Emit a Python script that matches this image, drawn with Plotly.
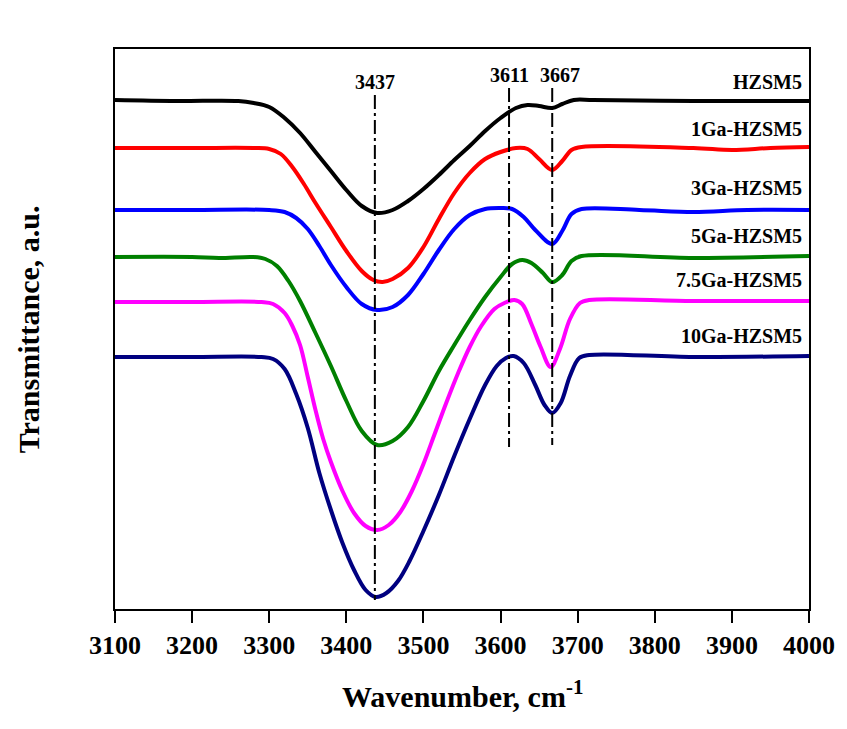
import plotly.graph_objects as go

# ---- data (wavenumber cm-1, transmittance in arbitrary offset units) ----
wn_hzsm5 = [3100, 3180, 3260, 3280, 3300, 3320, 3340, 3360, 3380, 3400, 3420, 3440, 3460, 3480,
            3500, 3520, 3540, 3560, 3580, 3600, 3620, 3635, 3650, 3667, 3680, 3695, 3720, 3850, 4000]
t_hzsm5 = [509, 508, 508, 506, 502, 491, 476, 457, 438, 419, 403, 396, 399, 408,
           420, 434, 449, 463, 478, 491, 501, 504, 503, 501, 505, 509, 509, 508, 508]

wn_1ga = [3100, 3200, 3280, 3300, 3315, 3330, 3345, 3360, 3380, 3400, 3420, 3435, 3447, 3460, 3480,
          3500, 3520, 3540, 3560, 3580, 3600, 3620, 3635, 3650, 3667, 3680, 3692, 3705, 3850, 3900, 3950, 4000]
t_1ga = [461, 461, 461, 460, 455, 442, 425, 406, 382, 358, 338, 329, 327, 330, 341,
         362, 390, 416, 436, 450, 457, 461, 460, 450, 439, 448, 459, 462, 461, 459, 461, 462]

wn_3ga = [3100, 3200, 3300, 3320, 3335, 3350, 3365, 3380, 3400, 3420, 3440, 3460, 3480, 3500,
          3520, 3540, 3560, 3580, 3600, 3615, 3630, 3645, 3667, 3680, 3692, 3705, 3780, 3850, 3920, 4000]
t_3ga = [399, 399, 399, 397, 391, 380, 363, 344, 322, 305, 299, 302, 314, 335,
         359, 380, 394, 400, 401, 400, 392, 379, 365, 378, 395, 400, 399, 397, 399, 399]

wn_5ga = [3100, 3200, 3235, 3280, 3295, 3310, 3325, 3340, 3360, 3380, 3400, 3420, 3440, 3460,
          3480, 3500, 3520, 3540, 3560, 3580, 3600, 3615, 3628, 3640, 3655, 3667, 3680, 3692, 3705, 3850, 4000]
t_5ga = [352, 352, 351, 352, 350, 343, 328, 308, 276, 243, 208, 178, 164, 168,
         182, 208, 238, 264, 289, 312, 332, 345, 349, 346, 336, 327, 334, 348, 353, 351, 353]

wn_75ga = [3100, 3200, 3290, 3305, 3320, 3330, 3340, 3350, 3360, 3370, 3380, 3395, 3410, 3425, 3440,
           3455, 3470, 3485, 3500, 3515, 3530, 3545, 3560, 3575, 3592, 3605, 3618, 3628, 3640, 3652,
           3665, 3677, 3690, 3703, 3715, 3850, 4000]
t_75ga = [307, 307, 307, 305, 296, 283, 264, 232, 199, 170, 147, 118, 96, 83, 79,
          84, 97, 118, 145, 176, 207, 236, 262, 283, 300, 306, 309, 305, 285, 262,
          242, 260, 290, 306, 309, 308, 308]

wn_10ga = [3100, 3200, 3290, 3305, 3320, 3335, 3350, 3365, 3380, 3395, 3410, 3425, 3438, 3452, 3467,
           3482, 3500, 3520, 3540, 3560, 3580, 3595, 3607, 3617, 3630, 3645, 3657, 3667, 3678, 3690,
           3702, 3715, 3850, 4000]
t_10ga = [252, 252, 252, 250, 240, 215, 181, 136, 99, 66, 39, 19, 12, 16, 28,
          48, 78, 114, 153, 190, 224, 243, 251, 253, 246, 224, 204, 196, 206, 233,
          251, 254, 252, 253]

series_names = ["HZSM5", "1Ga-HZSM5", "3Ga-HZSM5", "5Ga-HZSM5", "7.5Ga-HZSM5", "10Ga-HZSM5"]
series_colors = ["#000000", "#FF0000", "#0000FF", "#008000", "#FF00FF", "#000080"]
label_y = [527, 480, 421, 373, 329, 273]

peak_positions = [3437, 3611, 3667]
peak_label_x = [3437, 3612, 3677]
peak_line_top = [514, 521, 521]
peak_line_bottom = [9, 162, 164]
peak_label_y = [527, 534, 534]

series_x = [wn_hzsm5, wn_1ga, wn_3ga, wn_5ga, wn_75ga, wn_10ga]
series_y = [t_hzsm5, t_1ga, t_3ga, t_5ga, t_75ga, t_10ga]

FONT = "Liberation Serif"

fig = go.Figure()
for name, c, xs, ys in zip(series_names, series_colors, series_x, series_y):
    fig.add_trace(go.Scatter(x=xs, y=ys, mode="lines", name=name,
                             line=dict(color=c, width=4, shape="spline", smoothing=1.0),
                             showlegend=False, hoverinfo="skip"))

for p, top, bot in zip(peak_positions, peak_line_top, peak_line_bottom):
    fig.add_trace(go.Scatter(x=[p, p], y=[top, bot], mode="lines",
                             line=dict(color="black", width=2, dash="14px,4px,3px,4px"),
                             showlegend=False, hoverinfo="skip"))

annotations = []
for p, lx, ly in zip(peak_positions, peak_label_x, peak_label_y):
    annotations.append(dict(x=lx, y=ly, xref="x", yref="y", text=str(p), showarrow=False,
                            font=dict(family=FONT, size=20, color="black", weight="bold"),
                            xanchor="center", yanchor="middle"))
for name, ly in zip(series_names, label_y):
    annotations.append(dict(x=3993, y=ly, xref="x", yref="y", text=name, showarrow=False,
                            font=dict(family=FONT, size=20, color="black", weight="bold"),
                            xanchor="right", yanchor="middle"))

# axis titles
annotations.append(dict(x=0.5, y=-0.152, xref="paper", yref="paper",
                        text="Wavenumber, cm<sup>-1</sup>", showarrow=False,
                        font=dict(family=FONT, size=30, color="black", weight="bold"),
                        xanchor="center", yanchor="middle"))
annotations.append(dict(x=-0.125, y=0.5, xref="paper", yref="paper",
                        text="Transmittance, a.u.", showarrow=False, textangle=-90,
                        font=dict(family=FONT, size=30, color="black", weight="bold"),
                        xanchor="center", yanchor="middle"))

fig.update_layout(
    width=847, height=729,
    margin=dict(l=115, r=32, t=49, b=120),
    paper_bgcolor="white", plot_bgcolor="white",
    annotations=annotations,
    xaxis=dict(range=[3100, 4000], dtick=100, tick0=3100, ticks="outside", ticklen=12,
               tickwidth=2, tickcolor="black", showline=True, linecolor="black", linewidth=2,
               mirror=True, showgrid=False, zeroline=False,
               tickfont=dict(family=FONT, size=26, color="black", weight="bold")),
    yaxis=dict(range=[0, 560], showticklabels=False, ticks="", showline=True,
               linecolor="black", linewidth=2, mirror=True, showgrid=False, zeroline=False),
)

fig.write_html("out.html")
